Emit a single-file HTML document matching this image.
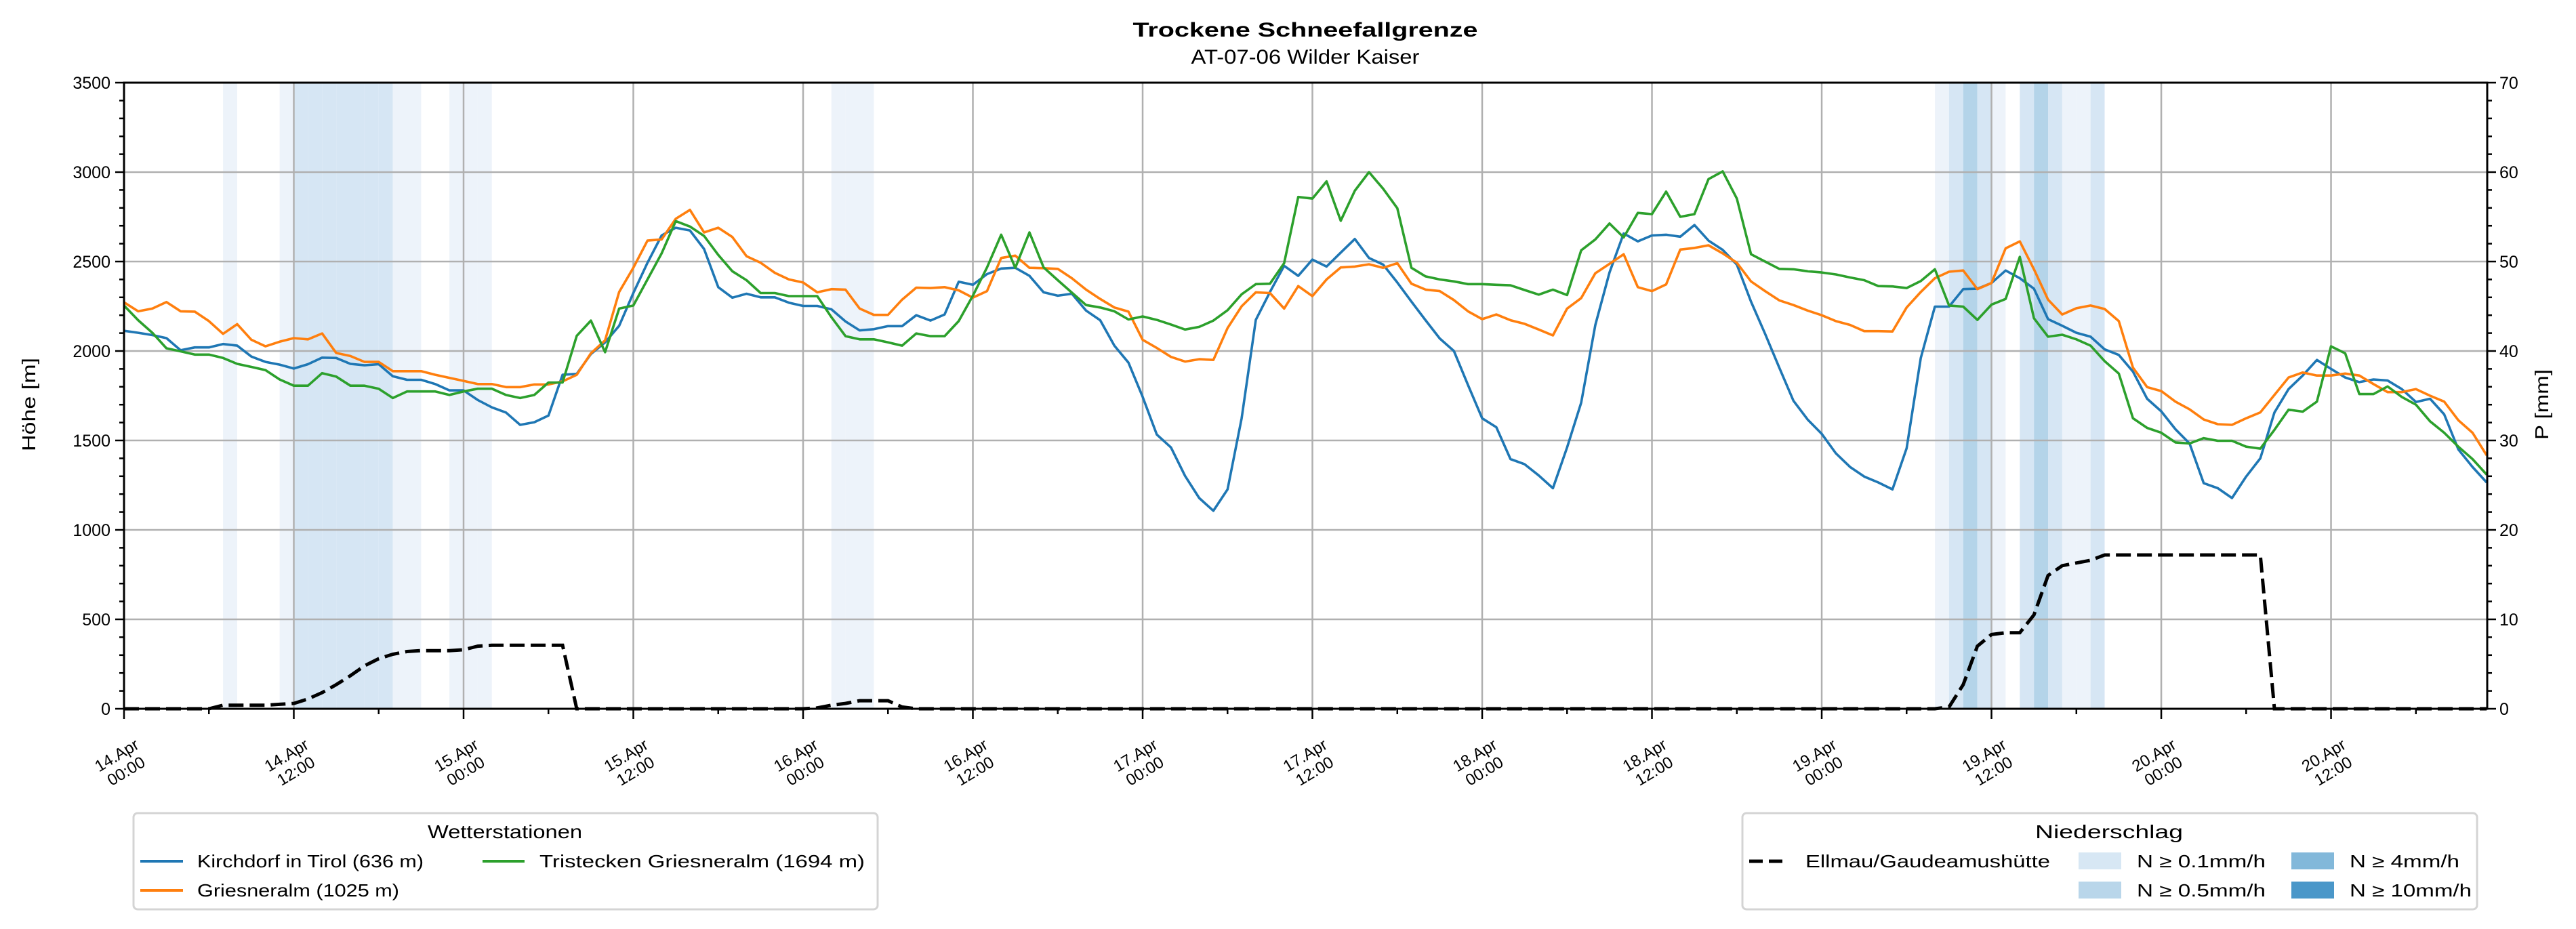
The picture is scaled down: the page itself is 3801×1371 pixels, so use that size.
<!DOCTYPE html>
<html><head><meta charset="utf-8">
<style>
html,body{margin:0;padding:0;background:#fff;}
svg{display:block;font-family:"Liberation Sans","DejaVu Sans",sans-serif;}
</style></head>
<body>
<svg id="chart" xmlns="http://www.w3.org/2000/svg" width="3801" height="1371" viewBox="0 0 3801 1371">
<rect x="0" y="0" width="3801" height="1371" fill="#fff"/>
<text x="1926" y="54" text-anchor="middle" font-size="30" font-weight="bold" textLength="509" lengthAdjust="spacingAndGlyphs">Trockene Schneefallgrenze</text>
<text x="1926" y="94" text-anchor="middle" font-size="30" textLength="337" lengthAdjust="spacingAndGlyphs">AT-07-06 Wilder Kaiser</text>
<g id="bands"></g>
<g id="grid"></g>
<g id="series"></g>
<g id="axes"></g>
<text transform="translate(52,597) rotate(-90)" text-anchor="middle" font-size="28" textLength="138" lengthAdjust="spacingAndGlyphs">Höhe [m]</text>
<text transform="translate(3760,597) rotate(-90)" text-anchor="middle" font-size="28" textLength="104" lengthAdjust="spacingAndGlyphs">P [mm]</text>

<g>
<rect x="197" y="1200" width="1098" height="142" rx="6" fill="#fff" stroke="#d4d4d4" stroke-width="3"/>
<text x="745" y="1237" text-anchor="middle" font-size="28" textLength="228" lengthAdjust="spacingAndGlyphs">Wetterstationen</text>
<g><line x1="207" y1="1271" x2="270" y2="1271" stroke="#1f77b4" stroke-width="4"/><text x="291" y="1280" font-size="26" textLength="334" lengthAdjust="spacingAndGlyphs">Kirchdorf in Tirol (636 m)</text></g>
<g><line x1="207" y1="1314" x2="270" y2="1314" stroke="#ff7f0e" stroke-width="4"/><text x="291" y="1323" font-size="26" textLength="298" lengthAdjust="spacingAndGlyphs">Griesneralm (1025 m)</text></g>
<g><line x1="712" y1="1271" x2="774" y2="1271" stroke="#2ca02c" stroke-width="4"/><text x="796" y="1280" font-size="26" textLength="480" lengthAdjust="spacingAndGlyphs">Tristecken Griesneralm  (1694 m)</text></g>
</g>
<g>
<rect x="2571" y="1200" width="1084" height="142" rx="6" fill="#fff" stroke="#d4d4d4" stroke-width="3"/>
<text x="3112" y="1237" text-anchor="middle" font-size="28" textLength="218" lengthAdjust="spacingAndGlyphs">Niederschlag</text>
<g><line x1="2581" y1="1271" x2="2637" y2="1271" stroke="#000" stroke-width="5" stroke-dasharray="20,9"/><text x="2664" y="1280" font-size="26" textLength="361" lengthAdjust="spacingAndGlyphs">Ellmau/Gaudeamushütte</text></g>
<g><rect x="3067" y="1258" width="63" height="25" fill="#d7e7f4"/><text x="3153" y="1280" font-size="26" textLength="190" lengthAdjust="spacingAndGlyphs">N ≥ 0.1mm/h</text></g>
<g><rect x="3067" y="1301" width="63" height="25" fill="#b9d6ea"/><text x="3153" y="1323" font-size="26" textLength="190" lengthAdjust="spacingAndGlyphs">N ≥ 0.5mm/h</text></g>
<g><rect x="3381" y="1258" width="63" height="25" fill="#82b8da"/><text x="3467" y="1280" font-size="26" textLength="162" lengthAdjust="spacingAndGlyphs">N ≥ 4mm/h</text></g>
<g><rect x="3381" y="1301" width="63" height="25" fill="#4a97c9"/><text x="3467" y="1323" font-size="26" textLength="180" lengthAdjust="spacingAndGlyphs">N ≥ 10mm/h</text></g>
</g>
</svg>
<script>
const kirchdorf = [2113,2102,2089,2072,2004,2020,2020,2039,2030,1969,1939,1924,1902,1926,1963,1961,1928,1920,1926,1859,1839,1839,1815,1780,1780,1726,1685,1656,1587,1602,1639,1867,1872,1983,2048,2141,2324,2493,2646,2689,2674,2570,2357,2298,2320,
2300,2300,2270,2252,2252,2233,2165,2115,2122,2139,2139,2200,2170,2204,2387,2370,2430,2461,2465,2420,2328,2309,2320,2226,2172,2030,1935,1744,1533,1461,1302,1178,1107,1226,1624,2174,2330,2476,2420,2511,2472,2550,2626,
2520,2483,2383,2276,2172,2070,2000,1810,1624,1574,1396,1367,1304,1233,1461,1711,2146,2439,2657,2613,2646,2650,2639,2704,2617,2565,2483,2276,2096,1907,1722,1617,1537,1428,1352,1298,1265,1226,1456,1961,2248,2248,2346,
2348,2380,2450,2407,2348,2178,2141,2102,2080,2009,1978,1885,1733,1663,1563,1483,1261,1233,1178,1298,1400,1656,1787,1863,1950,1900,1852,1826,1841,1835,1787,1715,1733,1646,1450,1352,1265];
const griesneralm = [2272,2222,2237,2274,2222,2220,2167,2096,2150,2063,2026,2052,2072,2065,2098,1989,1972,1939,1939,1887,1887,1887,1867,1850,1833,1815,1815,1798,1798,1813,1813,1830,1867,1987,2059,2330,2465,2617,2624,2739,2789,2663,2689,2637,2530,
2493,2437,2400,2383,2328,2346,2343,2237,2202,2202,2287,2354,2352,2357,2339,2298,2335,2520,2533,2465,2463,2459,2407,2343,2291,2243,2220,2063,2017,1967,1941,1954,1950,2128,2250,2328,2324,2237,2363,2307,2400,2467,2472,
2485,2465,2491,2376,2343,2335,2285,2222,2178,2204,2172,2152,2120,2087,2237,2296,2435,2487,2541,2357,2335,2372,2567,2576,2591,2546,2493,2389,2335,2283,2257,2226,2200,2167,2146,2111,2111,2109,2243,2330,2407,2443,2450,
2346,2380,2574,2613,2457,2287,2204,2239,2254,2235,2167,1907,1798,1776,1717,1674,1617,1591,1587,1624,1657,1754,1852,1880,1863,1863,1874,1863,1815,1770,1770,1787,1750,1717,1613,1543,1417];
const tristecken = [2254,2172,2102,2015,1998,1980,1980,1961,1928,1911,1893,1841,1806,1806,1876,1857,1806,1806,1789,1737,1774,1774,1774,1754,1774,1789,1789,1754,1737,1754,1824,1824,2085,2170,1993,2237,2254,2400,2546,2726,2696,2643,2537,2446,2396,
2324,2324,2307,2307,2307,2189,2083,2065,2065,2048,2030,2098,2083,2083,2167,2309,2467,2650,2465,2663,2467,2396,2326,2257,2243,2222,2176,2193,2174,2148,2120,2135,2170,2228,2317,2374,2376,2491,2861,2852,2948,2728,2896,
3000,2907,2798,2465,2417,2400,2389,2374,2374,2370,2367,2341,2315,2343,2313,2563,2624,2713,2635,2772,2765,2891,2750,2765,2961,3004,2852,2541,2500,2459,2457,2446,2439,2428,2411,2396,2363,2361,2352,2391,2457,2254,2248,
2174,2259,2291,2526,2183,2080,2091,2065,2030,1943,1874,1624,1570,1543,1489,1483,1513,1498,1498,1465,1454,1559,1672,1661,1717,2026,1987,1759,1759,1802,1743,1700,1607,1543,1465,1396,1309];
const ellmauMM = [0,0,0,0,0,0,0, 0.4,0.4,0.4,0.4,0.5,
0.6,1.1,1.8,2.7,3.7,4.8,5.6,6.1,6.4,6.5,6.5,6.5,6.6,7.0,7.1,7.1,7.1,7.1,7.1,7.1,
0,0,0,0,0,0,0,0,0,0,0,0,0,0,0,0,0,
0.1,0.4,0.6,0.9,0.9,0.9,0.2,
0,0,0,0,0,0,0,0,0,0,0,0,0,0,0,0,0,0,0,0,0,0,0,0,0,0,0,0,0,0,0,0,0,0,0,0,0,0,0,0,0,0,0,0,0,0,0,0,0,0,0,0,0,0,0,0,0,0,0,0,0,0,0,0,0,0,0,0,0,0,0,0,0,
0.2,2.7,7.0,8.3,8.5,8.5,10.5,14.9,16.0,16.3,16.6,17.2,17.2,17.2,17.2,17.2,17.2,17.2,17.2,17.2,17.2,17.2,17.2,
0,0,0,0,0,0,0,0,0,0,0,0,0,0,0,0];
const bandHours = [7,11,12,13,14,15,16,17,18,19,20,23,24,25,50,51,52,128,129,130,131,132,134,135,136,137,138,139];
const bandLevels = [0,0,1,1,1,1,1,1,1,0,0,0,0,0,0,0,0,0,1,2,1,0,1,2,1,0,0,1];
const xTickLabels = ["14.Apr|00:00","14.Apr|12:00","15.Apr|00:00","15.Apr|12:00","16.Apr|00:00","16.Apr|12:00","17.Apr|00:00","17.Apr|12:00","18.Apr|00:00","18.Apr|12:00","19.Apr|00:00","19.Apr|12:00","20.Apr|00:00","20.Apr|12:00"];
const yTicks = [0,500,1000,1500,2000,2500,3000,3500];
const y2Ticks = [0,10,20,30,40,50,60,70];

const NS = "http://www.w3.org/2000/svg";
const L = 183, R = 3670, T = 122, B = 1046;
const HMAX = 167.04;
const bandColors = ["#edf3fa","#d6e6f4","#b4d4e9"];
function xs(h){ return L + (R - L) * h / HMAX; }
function ys(v){ return B - (B - T) * v / 3500; }
function ys2(v){ return B - (B - T) * v / 70; }
function mk(tag, attrs, parent){ const e = document.createElementNS(NS, tag); for (const k in attrs) e.setAttribute(k, attrs[k]); parent.appendChild(e); return e; }

const bands = document.getElementById('bands');
bandHours.forEach((h, i) => {
  const r = mk('rect', {x: xs(h), y: T, width: xs(h + 1) - xs(h), height: B - T, fill: bandColors[bandLevels[i]]}, bands);
  
  
});

const grid = document.getElementById('grid');
yTicks.forEach(v => {
  const g = mk('line', {x1: L, x2: R, y1: ys(v), y2: ys(v), stroke: '#b0b0b0', 'stroke-width': 2.5}, grid);
  
  
});
xTickLabels.forEach((s, i) => {
  const g = mk('line', {x1: xs(i * 12), x2: xs(i * 12), y1: T, y2: B, stroke: '#b0b0b0', 'stroke-width': 2.5}, grid);
  
  
});

const series = document.getElementById('series');
function drawLine(arr, color, name){
  const pts = arr.map((v, i) => xs(i).toFixed(1) + ',' + ys(v).toFixed(1)).join(' ');
  const p = mk('polyline', {points: pts, fill: 'none', stroke: color, 'stroke-width': 3.6, 'stroke-linejoin': 'round'}, series);
  
  
}
drawLine(kirchdorf, '#1f77b4', 'line-kirchdorf');
drawLine(griesneralm, '#ff7f0e', 'line-griesneralm');
drawLine(tristecken, '#2ca02c', 'line-tristecken');
{
  const pts = ellmauMM.map((v, i) => xs(i).toFixed(1) + ',' + ys2(v).toFixed(1)).join(' ');
  const p = mk('polyline', {points: pts, fill: 'none', stroke: '#000', 'stroke-width': 5, 'stroke-dasharray': '22,9'}, series);
  
  
}

const axes = document.getElementById('axes');
mk('rect', {x: L, y: T, width: R - L, height: B - T, fill: 'none', stroke: '#000', 'stroke-width': 3}, axes);
for (let v = 0; v <= 3500; v += 100) {
  const major = v % 500 === 0;
  mk('line', {x1: L - (major ? 13 : 7), x2: L, y1: ys(v), y2: ys(v), stroke: '#000', 'stroke-width': 2.5}, axes);
}
yTicks.forEach(v => {
  const t = mk('text', {x: L - 20, y: ys(v) + 9, 'text-anchor': 'end', 'font-size': 25}, axes);
  t.textContent = v;
  
  
});
for (let v = 0; v <= 70; v += 2) {
  const major = v % 10 === 0;
  mk('line', {x1: R, x2: R + (major ? 13 : 7), y1: ys2(v), y2: ys2(v), stroke: '#000', 'stroke-width': 2.5}, axes);
}
y2Ticks.forEach(v => {
  const t = mk('text', {x: R + 18, y: ys2(v) + 9, 'text-anchor': 'start', 'font-size': 25}, axes);
  t.textContent = v;
  
  
});
for (let h = 0; h <= 162; h += 6) {
  const major = h % 12 === 0;
  mk('line', {x1: xs(h), x2: xs(h), y1: B, y2: B + (major ? 15 : 8), stroke: '#000', 'stroke-width': 2.5}, axes);
}
xTickLabels.forEach((s, i) => {
  const parts = s.split('|');
  const g = mk('g', {transform: 'translate(' + (xs(i * 12) - 4) + ',1126) rotate(-31)'}, axes);
  
  
  const t1 = mk('text', {x: 0, y: -5, 'text-anchor': 'middle', 'font-size': 24}, g);
  t1.textContent = parts[0];
  const t2 = mk('text', {x: 0, y: 22, 'text-anchor': 'middle', 'font-size': 24}, g);
  t2.textContent = parts[1];
});
</script>
</body></html>
